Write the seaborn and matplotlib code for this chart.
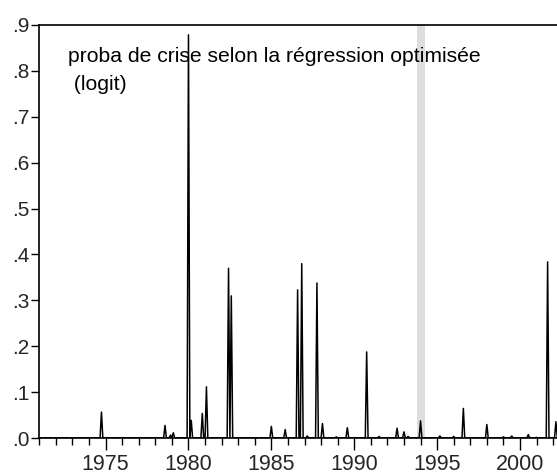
import numpy as np
import pandas as pd
import seaborn as sns
import matplotlib
matplotlib.use("Agg")
import matplotlib.pyplot as plt
from matplotlib.ticker import MultipleLocator, FixedLocator, FuncFormatter

# ---- data ----
start_year, end_year = 1971, 2002
baseline = 0.001
peak_months = ["1974-10", "1978-08", "1978-12", "1979-02", "1980-01", "1980-03",
               "1980-11", "1981-02", "1982-06", "1982-08", "1985-01", "1985-11",
               "1986-08", "1986-11", "1987-03", "1987-10", "1988-02", "1988-12",
               "1989-08", "1990-10", "1991-07", "1992-08", "1993-01", "1993-04",
               "1994-01", "1995-03", "1996-01", "1996-08", "1998-01", "1999-01",
               "1999-07", "2000-07", "2001-01", "2001-09", "2002-03"]
peak_values = [0.057, 0.028, 0.007, 0.012, 0.878, 0.039,
               0.054, 0.112, 0.370, 0.310, 0.026, 0.019,
               0.323, 0.380, 0.005, 0.338, 0.032, 0.003,
               0.023, 0.188, 0.004, 0.022, 0.014, 0.004,
               0.038, 0.005, 0.004, 0.065, 0.030, 0.003,
               0.005, 0.008, 0.002, 0.384, 0.036]
crisis_start, crisis_end = 1993.77, 1994.26
x_tick_years = [1975, 1980, 1985, 1990, 1995, 2000]
y_ticks = [0.0, 0.1, 0.2, 0.3, 0.4, 0.5, 0.6, 0.7, 0.8, 0.9]
label_text = "proba de crise selon la régression optimisée\n (logit)"

# ---- build monthly series ----
months = pd.period_range(f"{start_year}-01", f"{end_year}-06", freq="M")
vals = pd.Series(baseline, index=months)
for m, v in zip(peak_months, peak_values):
    vals[pd.Period(m, freq="M")] = v
df = pd.DataFrame({
    "date": [p.year + (p.month - 1) / 12 for p in months],
    "proba": vals.values,
})

# ---- plot ----
sns.set_style("ticks")
plt.rcParams["font.family"] = ["Liberation Sans", "DejaVu Sans"]

W, H = 557, 475
fig = plt.figure(figsize=(W / 100, H / 100), dpi=100)
left_px, top_px, bottom_px = 39.3, 24.7, 438.3
px_per_year = 16.54
ax = fig.add_axes([left_px / W, 1 - bottom_px / H, (W - left_px) / W + 0.002,
                   (bottom_px - top_px) / H])

ax.axvspan(crisis_start, crisis_end, color="#dedede", lw=0, zorder=0)
sns.lineplot(data=df, x="date", y="proba", ax=ax, color="black", linewidth=1.1)

ax.set_xlim(start_year, start_year + (W - left_px) / px_per_year)
ax.set_ylim(0, 0.9)
ax.set_xlabel("")
ax.set_ylabel("")

ax.xaxis.set_major_locator(FixedLocator(x_tick_years))
ax.xaxis.set_minor_locator(MultipleLocator(1))
ax.yaxis.set_major_locator(FixedLocator(y_ticks))
ax.yaxis.set_major_formatter(FuncFormatter(lambda v, p: f"{v:.1f}".lstrip("0")))

ax.tick_params(axis="x", which="major", length=8.5, width=1.0, direction="out",
               labelsize=15.5, pad=3, color="black")
ax.tick_params(axis="x", which="minor", length=5, width=1.0, direction="out", color="black")
ax.tick_params(axis="y", which="major", length=6, width=1.0, direction="out",
               labelsize=15, pad=1, color="black")

for s in ["left", "top", "bottom"]:
    ax.spines[s].set_linewidth(1.2)
    ax.spines[s].set_color("black")
ax.spines["right"].set_visible(False)

fig.text(68 / W, 1 - 47 / H, label_text, ha="left", va="top", fontsize=15.2,
         linespacing=1.6, color="black")

fig.savefig("out.png", dpi=100)
